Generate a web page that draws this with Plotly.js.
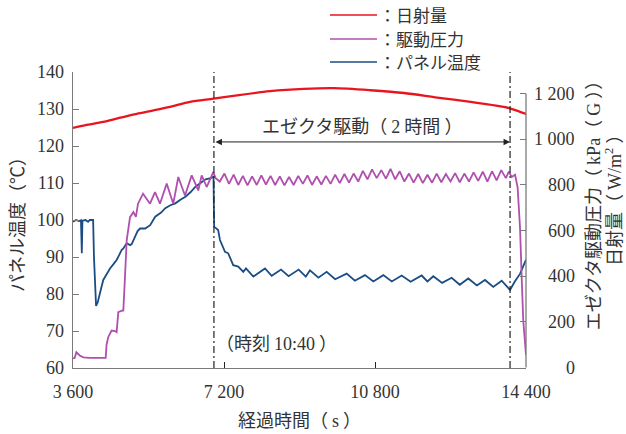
<!DOCTYPE html>
<html><head><meta charset="utf-8">
<script src="https://cdn.plot.ly/plotly-3.0.1.min.js"></script>
<style>body{margin:0;background:#fff}#chart{width:626px;height:434px}</style>
</head><body><div id="chart"></div>
<script>
// ---- data ----
const seriesNames = ['：日射量', '：駆動圧力', '：パネル温度'];

// solar radiation (W/m2), right axis
const solarTime  = [3600, 3900, 4320, 4700, 5120, 5500, 5910, 6390, 6950, 7510, 8300, 9100, 9820, 10690, 11490, 12280, 13080, 13870, 14030, 14200, 14400];
const solarValue = [1050, 1062, 1076, 1094, 1112, 1126, 1142, 1164, 1178, 1193, 1211, 1221, 1224, 1215, 1203, 1183, 1164, 1142, 1135, 1125, 1111];

// ejector driving pressure (kPa(G)), right axis
const pressureTime  = [3600, 3640, 3680, 3720, 3760, 3850, 4000, 4200, 4380, 4400, 4440, 4520, 4600, 4640, 4680, 4780, 4800, 4840, 4880, 4960, 5040, 5100, 5150, 5270, 5436, 5555, 5674, 5834, 5991, 6110, 6270, 6430, 6587, 6668, 6787, 6945, 7000,
  7100, 7210, 7320, 7430, 7540, 7650, 7760, 7870, 7980, 8090, 8200, 8310, 8420, 8530, 8640, 8750, 8860, 8970, 9080, 9190, 9300, 9410, 9520, 9630, 9740, 9850, 9960, 10070, 10180, 10290, 10400, 10510, 10620, 10730, 10840, 10950, 11060, 11170, 11280, 11390, 11500, 11610, 11720, 11830, 11940, 12050, 12160, 12270, 12380, 12490, 12600, 12710, 12820, 12930, 13040, 13150, 13260, 13370, 13480, 13590, 13700, 13810, 13920,
  13990, 14060, 14140, 14200, 14257, 14297, 14335, 14400];
const pressureValue = [40, 42, 67, 60, 53, 45, 42, 42, 42, 100, 133, 162, 160, 155, 243, 250, 250, 400, 557, 659, 681, 660, 718, 762, 718, 769, 718, 806, 718, 835, 754, 842, 776, 842, 791, 857, 830,
  815, 850, 805, 845, 800, 840, 798, 838, 800, 842, 802, 840, 800, 838, 798, 835, 800, 840, 805, 842, 800, 838, 802, 840, 805, 845, 808, 848, 810, 850, 815, 862, 825, 868, 830, 865, 828, 870, 825, 860, 815, 850, 810, 848, 808, 845, 810, 850, 812, 848, 815, 852, 812, 850, 815, 855, 818, 858, 815, 860, 820, 865, 830,
  858, 835, 845, 790, 615, 396, 206, 55];

// panel temperature (deg C), left axis
const tempTime  = [3600, 3670, 3740, 3790, 3810, 3825, 3900, 3960, 4000, 4080, 4100, 4130, 4150, 4190, 4220, 4244, 4270, 4322, 4390, 4482, 4560, 4640, 4700, 4760, 4800, 4880, 4960, 5000, 5080, 5140, 5200, 5320, 5440, 5560, 5700, 5800, 5920, 6040, 6160, 6280, 6400, 6520, 6640, 6760, 6880, 6950, 6965, 7000, 7060, 7104, 7224, 7300, 7420, 7540, 7660,
  7724, 7899, 8177, 8337, 8560, 8740, 8980, 9150, 9250, 9450, 9648, 9850, 10125, 10320, 10561, 10760, 10998, 11200, 11436, 11650, 11913, 12050, 12190, 12400, 12628, 12820, 13024, 13230, 13422, 13620, 13820, 14018, 14130, 14260, 14400];
const tempValue = [99.5, 100.0, 99.7, 99.9, 91.0, 99.8, 100.0, 99.5, 100.0, 100.0, 90.0, 78.5, 76.8, 77.8, 79.5, 80.2, 81.5, 83.8, 85.2, 86.9, 88.0, 89.2, 90.5, 91.9, 92.3, 93.7, 93.2, 93.5, 95.5, 97.0, 97.7, 97.7, 98.6, 100.9, 102.0, 103.2, 104.0, 104.5, 105.5, 106.3, 107.5, 109.0, 110.0, 111.0, 111.3, 111.7, 98.2, 97.8, 97.3, 94.6, 91.4, 91.0, 87.8, 87.4, 86.0,
  86.9, 84.7, 86.9, 84.9, 86.6, 84.8, 86.6, 84.7, 86.4, 84.4, 86.0, 84.0, 85.5, 83.6, 85.1, 83.4, 85.1, 83.4, 85.0, 83.3, 85.0, 83.4, 84.8, 83.0, 84.4, 82.5, 84.2, 82.3, 83.8, 81.9, 83.6, 81.1, 83.3, 85.5, 89.3];

// axes
const xTickVals  = [3600, 7200, 10800, 14400];
const xTickText  = ['3 600', '7 200', '10 800', '14 400'];
const yTickVals  = [60, 70, 80, 90, 100, 110, 120, 130, 140];
const y2TickVals = [0, 200, 400, 600, 800, 1000, 1200];
const y2TickText = ['0', '200', '400', '600', '800', '1 000', '1 200'];
const driveStart = 6960, driveEnd = 14020;

// ---- style ----
const C_RED = '#e8151f', C_PUR = '#b04fae', C_BLU = '#1b4d85';
const TXT = '#333333', AX = '#7a7a7a';
const NUMF = 'Liberation Serif, Times New Roman, serif';
const JPF = 'Noto Sans CJK JP, sans-serif';
const JS = 18;
const lat = s => '<span style="font-family:Liberation Serif">' + s + '</span>';

const traces = [
  {x: solarTime, y: solarValue, name: seriesNames[0], yaxis: 'y2', mode: 'lines', line: {color: C_RED, width: 2.3, shape: 'spline', smoothing: 0.8}},
  {x: pressureTime, y: pressureValue, name: seriesNames[1], yaxis: 'y2', mode: 'lines', line: {color: C_PUR, width: 1.8}},
  {x: tempTime, y: tempValue, name: seriesNames[2], yaxis: 'y', mode: 'lines', line: {color: C_BLU, width: 1.8}}
];

const annotations = y2TickVals.map((v, i) => ({
  xref: 'paper', yref: 'y2', x: 1.113, y: v, xanchor: 'right', yanchor: 'middle',
  text: y2TickText[i], showarrow: false, font: {family: NUMF, size: 18, color: TXT}
}));
annotations.push(
  {xref: 'paper', yref: 'paper', x: 1.146, y: 0.564, xanchor: 'center', yanchor: 'middle', textangle: -90, showarrow: false,
   text: 'エゼクタ駆動圧力（ ' + lat('kPa') + '（ ' + lat('G') + ' ））',
   font: {family: JPF, size: JS, color: TXT}},
  {xref: 'paper', yref: 'paper', x: 1.192, y: 0.581, xanchor: 'center', yanchor: 'middle', textangle: -90, showarrow: false,
   text: '日射量（ ' + lat('W/m<sup>2</sup>') + ' ）',
   font: {family: JPF, size: JS, color: TXT}},
  {xref: 'x', yref: 'y', x: driveEnd, y: 121.1, ax: driveStart, ay: 121.1, axref: 'x', ayref: 'y',
   text: '', showarrow: true, arrowside: 'end+start', arrowhead: 2, arrowsize: 1.3, arrowwidth: 1,
   arrowcolor: '#222', standoff: 0, startstandoff: 0},
  {xref: 'x', yref: 'paper', x: (driveStart + driveEnd) / 2, y: 0.82, xanchor: 'center', yanchor: 'middle',
   text: 'エゼクタ駆動（ ' + lat('2') + ' 時間 ）',
   showarrow: false, font: {family: JPF, size: JS, color: TXT}},
  {xref: 'x', yref: 'paper', x: driveStart, y: 0.088, xanchor: 'left', yanchor: 'middle',
   text: '（時刻 ' + lat('10:40') + ' ）',
   showarrow: false, font: {family: JPF, size: JS, color: TXT}}
);

const dash = '7px,3px,2px,3px';
const shapes = [
  {type: 'line', xref: 'x', yref: 'paper', x0: driveStart, x1: driveStart, y0: 0, y1: 1, line: {color: '#222', width: 1.2, dash: dash}},
  {type: 'line', xref: 'x', yref: 'paper', x0: driveEnd, x1: driveEnd, y0: 0, y1: 1, line: {color: '#222', width: 1.2, dash: dash}},
  {type: 'line', xref: 'paper', yref: 'y2', x0: 1, x1: 1, y0: 0, y1: 1200, line: {color: AX, width: 1.3}}
];

// legend (key) drawn in paper space, one row per series
const legendRowsY = [1.1926, 1.1115, 1.0338];
traces.forEach((t, i) => {
  shapes.push({type: 'line', xref: 'paper', yref: 'paper', x0: 0.5673, x1: 0.6711, y0: legendRowsY[i], y1: legendRowsY[i],
    line: {color: t.line.color, width: 1.7}});
  annotations.push({xref: 'paper', yref: 'paper', x: 0.6711, y: legendRowsY[i], xanchor: 'left', yanchor: 'middle',
    text: t.name, showarrow: false, font: {family: JPF, size: 17, color: TXT}});
});

const layout = {
  width: 626, height: 434,
  margin: {l: 73, r: 100, t: 72, b: 66},
  paper_bgcolor: '#fff', plot_bgcolor: '#fff',
  showlegend: false,
  xaxis: {range: [3600, 14400], tickvals: xTickVals, ticktext: xTickText, ticks: 'inside', ticklen: 6,
    tickcolor: '#222', showline: true, linecolor: AX, linewidth: 1.3, showgrid: false, zeroline: false,
    tickfont: {family: NUMF, size: 18, color: TXT}, ticklabelstandoff: 7,
    title: {text: '経過時間（ ' + lat('s') + ' ）', font: {family: JPF, size: JS, color: TXT}, standoff: 13}},
  yaxis: {range: [60, 140], tickvals: yTickVals, ticks: 'inside', ticklen: 6, tickcolor: AX,
    showline: true, linecolor: AX, linewidth: 1.3, showgrid: false, zeroline: false,
    tickfont: {family: NUMF, size: 18, color: TXT}, ticklabelstandoff: 4,
    title: {text: 'パネル温度（℃）', font: {family: JPF, size: JS, color: TXT}, standoff: 7}},
  yaxis2: {overlaying: 'y', side: 'right', range: [-2, 1295], tickvals: y2TickVals, ticks: 'inside',
    ticklen: 6, tickcolor: AX, showticklabels: false, showline: false, showgrid: false, zeroline: false},
  annotations: annotations,
  shapes: shapes
};

Plotly.newPlot('chart', traces, layout, {displayModeBar: false, staticPlot: true});
</script></body></html>
